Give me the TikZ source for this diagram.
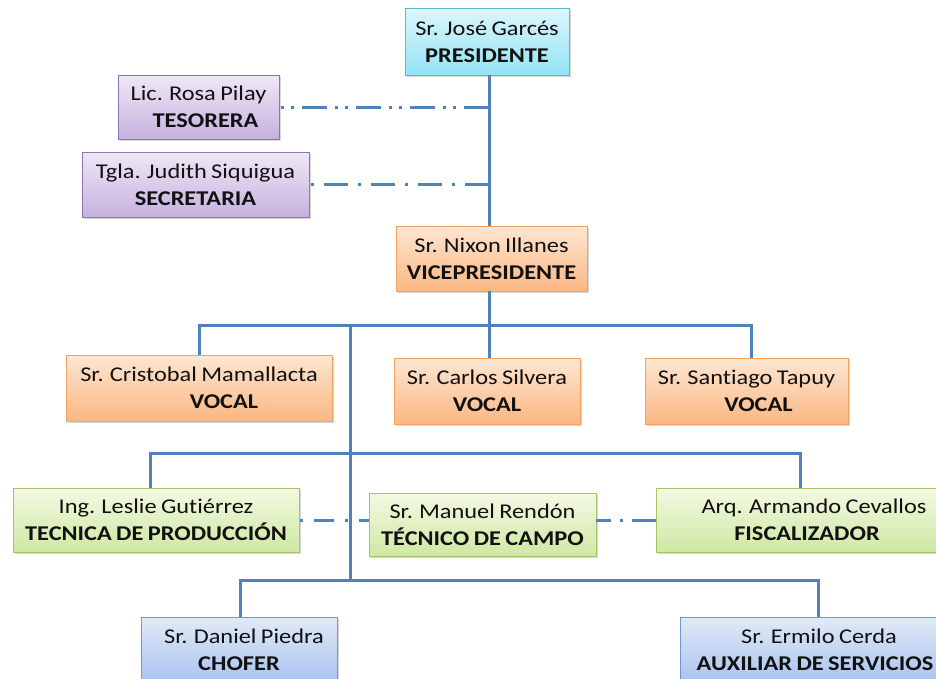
\documentclass[tikz,border=0pt]{standalone}
\usepackage{fontspec}
\setmainfont{Carlito}[FakeStretch=1.16, WordSpace=0.8, Ligatures=NoCommon]
\usetikzlibrary{shadows,calc}
\definecolor{lnc}{HTML}{4F81BD}
\definecolor{txt}{HTML}{111111}
\definecolor{cyT}{HTML}{DDF6FC}\definecolor{cyB}{HTML}{93E3F5}\definecolor{cyD}{HTML}{5BB8CF}
\definecolor{puT}{HTML}{EFE8F6}\definecolor{puB}{HTML}{C6B1DF}\definecolor{puD}{HTML}{8D74B3}
\definecolor{orT}{HTML}{FDE6D3}\definecolor{orB}{HTML}{FBB782}\definecolor{orD}{HTML}{F6A15E}
\definecolor{grT}{HTML}{F3F9E3}\definecolor{grB}{HTML}{CFE8A3}\definecolor{grD}{HTML}{A3C566}
\definecolor{blT}{HTML}{E1EAF8}\definecolor{blB}{HTML}{A8C2EE}\definecolor{blD}{HTML}{7396CF}
\tikzset{
  pbox/.style={draw, line width=0.9pt, inner sep=0pt, align=center, text=txt,
    font=\fontsize{21}{27}\selectfont,
    drop shadow={shadow xshift=1.6pt, shadow yshift=-1.8pt, opacity=0.25, fill=black!60}},
  cyanbox/.style={pbox, draw=cyD, top color=cyT, bottom color=cyB},
  purplebox/.style={pbox, draw=puD, top color=puT, bottom color=puB},
  orangebox/.style={pbox, draw=orD, top color=orT, bottom color=orB},
  greenbox/.style={pbox, draw=grD, top color=grT, bottom color=grB},
  bluebox/.style={pbox, draw=blD, top color=blT, bottom color=blB},
  conn/.style={draw=lnc, line width=3pt},
  dashdotdot/.style={draw=lnc, line width=3pt, dash pattern=on 25pt off 8pt on 3pt off 7pt on 3pt off 8pt},
  dashdotA/.style={draw=lnc, line width=3pt, dash pattern=on 24pt off 10pt on 3pt off 10pt},
  dashdotB/.style={draw=lnc, line width=3pt, dash pattern=on 20pt off 11pt on 3pt off 11pt, dash phase=10pt},
  dashdotC/.style={draw=lnc, line width=3pt, dash pattern=on 24pt off 9pt on 3pt off 9pt},
}
\begin{document}
\begin{tikzpicture}[x=1pt,y=-1pt]
\useasboundingbox (0,0) rectangle (936,678);
\clip (0,0) rectangle (936,678);
\fill[white] (0,0) rectangle (936,678);

% boxes
\node[cyanbox, minimum width=164pt, minimum height=67pt] (pres) at (487,41.5) {Sr. José Garcés\\\textbf{PRESIDENTE}};
\node[purplebox, minimum width=161pt, minimum height=64pt] (tes) at (198.5,107) {Lic. Rosa Pilay\\\hspace*{14pt}\textbf{TESORERA}};
\node[purplebox, minimum width=227pt, minimum height=65pt] (sec) at (195.5,184.5) {Tgla. Judith Siquigua\\\textbf{SECRETARIA}};
\node[orangebox, minimum width=191pt, minimum height=65pt] (vp) at (491.5,258.5) {Sr. Nixon Illanes\\\textbf{VICEPRESIDENTE}};
\node[orangebox, minimum width=266pt, minimum height=66pt] (v1) at (199,388) {Sr. Cristobal Mamallacta\\\hspace*{50pt}\textbf{VOCAL}};
\node[orangebox, minimum width=186pt, minimum height=66pt] (v2) at (487,391) {Sr. Carlos Silvera\\\textbf{VOCAL}};
\node[orangebox, minimum width=203pt, minimum height=66pt] (v3) at (746.5,391) {Sr. Santiago Tapuy\\\hspace*{24pt}\textbf{VOCAL}};
\node[greenbox, minimum width=286pt, minimum height=64pt] (l1) at (156,520) {Ing. Leslie Gutiérrez\\\textbf{TECNICA DE PRODUCCIÓN}};
\node[greenbox, minimum width=227pt, minimum height=63pt] (l2) at (482.5,524.5) {Sr. Manuel Rendón\\\textbf{TÉCNICO DE CAMPO}};
\node[greenbox, minimum width=302pt, minimum height=64pt] (l3) at (807,520) {\hspace*{14pt}Arq. Armando Cevallos\\\textbf{FISCALIZADOR}};
\node[bluebox, minimum width=196pt, minimum height=66pt] (b1) at (239,650) {\hspace*{10pt}Sr. Daniel Piedra\\\textbf{CHOFER}};
\node[bluebox, minimum width=270pt, minimum height=66pt] (b2) at (815,650) {\hspace*{8pt}Sr. Ermilo Cerda\\\textbf{AUXILIAR DE SERVICIOS}};

% junction coordinates
\coordinate (t0) at (489,75);
\coordinate (j1) at (199,325);
\coordinate (j2) at (489,325);
\coordinate (j3) at (751,325);
\coordinate (j0) at (350,325);
\coordinate (k1) at (150,453);
\coordinate (k0) at (350,453);
\coordinate (k3) at (800,453);
\coordinate (m1) at (240,580);
\coordinate (m0) at (350,580);
\coordinate (m3) at (818,580);

% connectors
\draw[conn] (t0) -- (t0 |- vp.north);
\draw[conn] (vp.south -| t0) -- (j2) -- (j2 |- v2.north);
\draw[conn, line join=miter] (j1 |- v1.north) -- (j1) -- (j3) -- (j3 |- v3.north);
\draw[conn] (j0) -- (m0);
\draw[conn] (k1 |- l1.north) -- (k1) -- (k3) -- (k3 |- l3.north);
\draw[conn] (m1 |- b1.north) -- (m1) -- (m3) -- (m3 |- b2.north);

\draw[dashdotdot] (tes.east -| t0) -- (tes.east);
\draw[dashdotA] (sec.east -| t0) -- (sec.east);
\draw[dashdotB] (l1.east -| l2.west) -- (l1.east);
\draw[dashdotC] (l3.west) -- (l3.west -| l2.east);
\end{tikzpicture}
\end{document}
